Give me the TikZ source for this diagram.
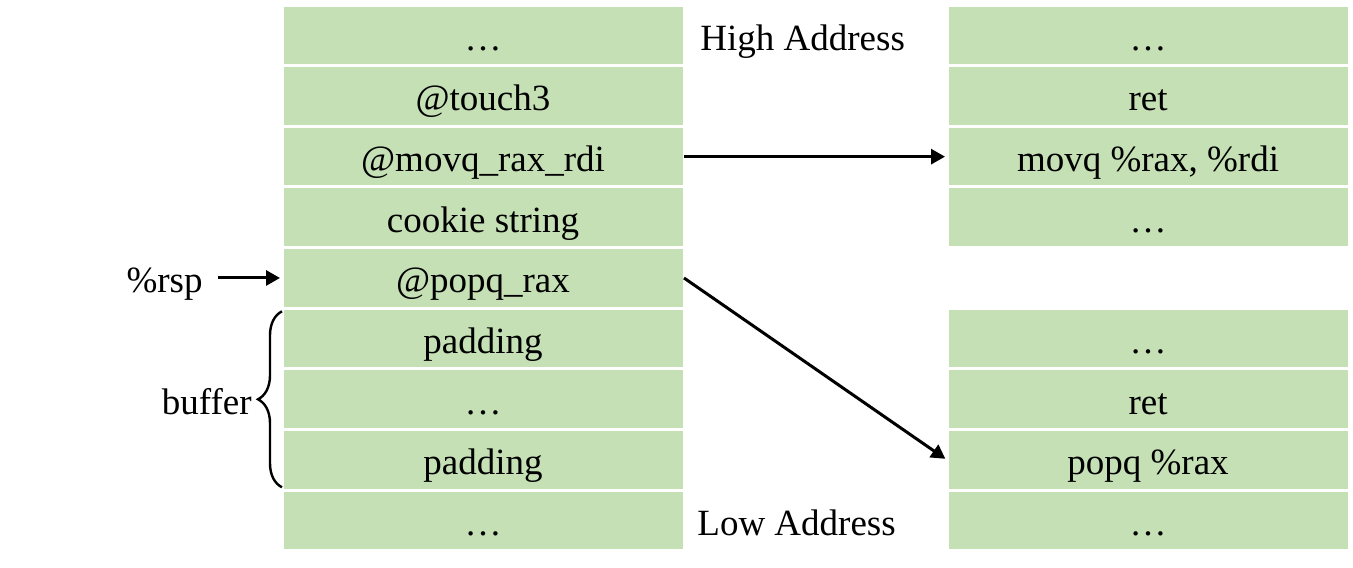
\documentclass[tikz,border=0pt]{standalone}
\usepackage{fontspec}
\setmainfont{Liberation Serif}
\usetikzlibrary{positioning,arrows.meta,decorations.pathreplacing}
\definecolor{cellgreen}{HTML}{C5E0B4}

\begin{document}
\begin{tikzpicture}[node distance=0pt,
  font=\fontsize{18.5}{22}\selectfont,
  txt/.style={text height=18pt,text depth=3pt},
  cell/.style={txt,rectangle,fill=cellgreen,draw=white,line width=1.5pt,
    minimum width=201pt,minimum height=30.33pt,inner sep=0pt,outer sep=0pt},
  arr/.style={-{Triangle[length=7pt,width=7.5pt]},line width=1.5pt,shorten >=1pt}]
  \useasboundingbox (0,0) rectangle (676.5pt,283.5pt);
  % stack
  \node[cell] (l1) at (241.5pt,265.83pt) {…};
  \node[cell] (l2) [below=of l1] {@touch3};
  \node[cell] (l3) [below=of l2] {@movq\_rax\_rdi};
  \node[cell] (l4) [below=of l3] {cookie string};
  \node[cell] (l5) [below=of l4] {@popq\_rax};
  \node[cell] (l6) [below=of l5] {padding};
  \node[cell] (l7) [below=of l6] {…};
  \node[cell] (l8) [below=of l7] {padding};
  \node[cell] (l9) [below=of l8] {…};
  % movq gadget
  \node[cell] (r1) [right=131.5pt of l1] {…};
  \node[cell] (r2) [below=of r1] {ret};
  \node[cell] (r3) [below=of r2] {movq \%rax, \%rdi};
  \node[cell] (r4) [below=of r3] {…};
  % popq gadget
  \node[cell] (s1) [right=131.5pt of l6] {…};
  \node[cell] (s2) [below=of s1] {ret};
  \node[cell] (s3) [below=of s2] {popq \%rax};
  \node[cell] (s4) [below=of s3] {…};

  \node[txt] (high) [right=8pt of l1,inner sep=0pt] {High Address};
  \node[txt] (low) [right=6.5pt of l9,inner sep=0pt] {Low Address};
  \node[txt] (rsp) [left=32pt of l5,inner sep=7.5pt] {\%rsp};

  \draw[arr] (rsp) -- (l5);
  \draw[arr] (l3) -- (r3);
  \draw[arr] (l5.east) -- (s3.west);

  \draw[decorate,decoration={brace,amplitude=12pt},line width=1.2pt]
    ([yshift=1.5pt]l8.south west) -- ([yshift=-1.5pt]l6.north west);
  \path (l6.north west) -- (l8.south west) coordinate[midway] (bmid);
  \node[txt] (buf) [anchor=east,inner sep=3pt] at ([xshift=-12pt]bmid) {buffer};
\end{tikzpicture}
\end{document}
